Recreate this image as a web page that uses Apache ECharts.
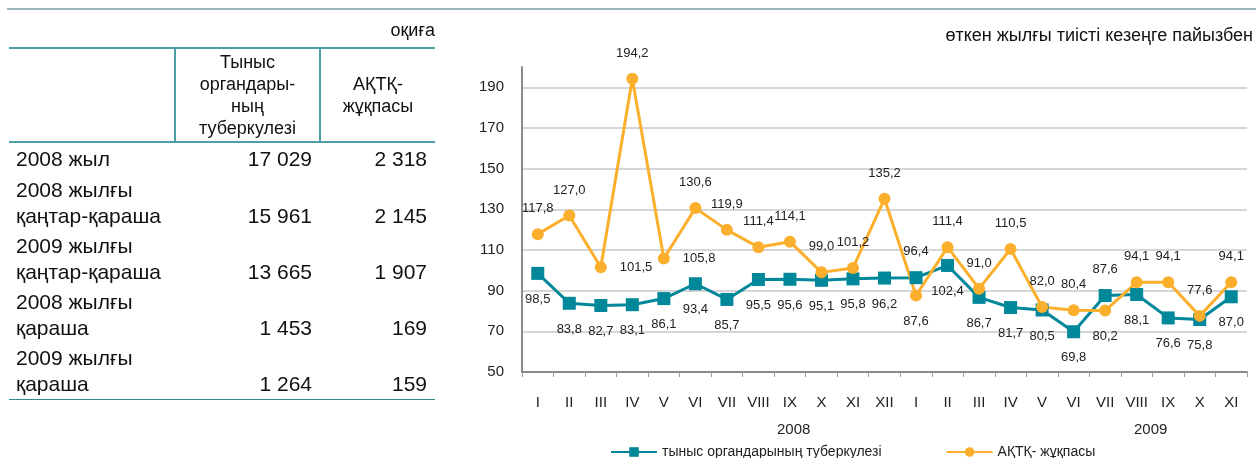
<!DOCTYPE html>
<html>
<head>
<meta charset="utf-8">
<script src="https://cdn.jsdelivr.net/npm/echarts@6/dist/echarts.min.js"></script>
<style>
  html, body { margin: 0; padding: 0; background: #fff; }
  body { width: 1256px; height: 458px; position: relative; overflow: hidden;
         font-family: "Liberation Sans", Arial, sans-serif; color: #111; }
  #chart { position: absolute; left: 0; top: 0; width: 1256px; height: 458px; }
  .topline { position: absolute; left: 7px; right: 0; top: 8px; height: 0; border-top: 2px solid #9bb7bb; }
  .unit { position: absolute; left: 300px; width: 135px; top: 19px; line-height: 22px; text-align: right; font-size: 18px; }
  table { position: absolute; left: 9px; top: 47px; width: 426px; border-collapse: collapse; table-layout: fixed; font-size: 21px; }
  th { font-weight: normal; font-size: 18px; line-height: 22px; text-align: center; height: 92px; padding: 0;
       border-top: 2px solid #4d9ea6; border-bottom: 2px solid #4d9ea6; }
  th + th { border-left: 2px solid #4d9ea6; }
  td { padding: 2px 0 2px 0; line-height: 26px; vertical-align: bottom; }
  td.n { text-align: right; padding-right: 8px; }
  tr.first td { height: 28px; vertical-align: middle; }
  tr.last td { border-bottom: 1px solid #2f8a94; }
  td.name { padding-left: 7px; }
</style>
</head>
<body>
<div id="chart"></div>
<div class="topline"></div>
<div class="unit">оқиға</div>
<table id="tbl">
  <colgroup><col style="width:166px"><col style="width:145px"><col style="width:115px"></colgroup>
  <thead><tr><th></th><th>Тыныс<br>органдары-<br>ның<br>туберкулезі</th><th>АҚТҚ-<br>жұқпасы</th></tr></thead>
  <tbody id="tbody"></tbody>
</table>
<script>
// таблица
var rowNames = ['2008 жыл', '2008 жылғы<br>қаңтар-қараша', '2009 жылғы<br>қаңтар-қараша', '2008 жылғы<br>қараша', '2009 жылғы<br>қараша'];
var tbCases = ['17 029', '15 961', '13 665', '1 453', '1 264'];
var hivCases = ['2 318', '2 145', '1 907', '169', '159'];

// график
var months = ['I', 'II', 'III', 'IV', 'V', 'VI', 'VII', 'VIII', 'IX', 'X', 'XI', 'XII',
              'I', 'II', 'III', 'IV', 'V', 'VI', 'VII', 'VIII', 'IX', 'X', 'XI'];
var tbValues = [98.5, 83.8, 82.7, 83.1, 86.1, 93.4, 85.7, 95.5, 95.6, 95.1, 95.8, 96.2,
                96.4, 102.4, 86.7, 81.7, 80.5, 69.8, 87.6, 88.1, 76.6, 75.8, 87.0];
var hivValues = [117.8, 127.0, 101.5, 194.2, 105.8, 130.6, 119.9, 111.4, 114.1, 99.0, 101.2, 135.2,
                 87.6, 111.4, 91.0, 110.5, 82.0, 80.4, 80.2, 94.1, 94.1, 77.6, 94.1];
var yTicks = [50, 70, 90, 110, 130, 150, 170, 190];
var years = ['2008', '2009'];
var seriesNames = ['тыныс органдарының туберкулезі', 'АҚТҚ- жұқпасы'];

// где стоят подписи точек
var tbLabelPos = ['bottom', 'bottom', 'bottom', 'bottom', 'bottom', 'bottom', 'bottom', 'bottom', 'bottom', 'bottom', 'bottom', 'bottom',
                  'top', 'bottom', 'bottom', 'bottom', 'bottom', 'bottom', 'top', 'bottom', 'bottom', 'bottom', 'bottom'];
var hivLabelPos = ['top', 'top', 'right', 'top', 'right', 'top', 'top', 'top', 'top', 'top', 'top', 'top',
                   'bottom', 'top', 'top', 'top', 'top', 'top', 'bottom', 'top', 'top', 'top', 'top'];

(function () {
  var body = document.getElementById('tbody');
  var html = '';
  for (var i = 0; i < rowNames.length; i++) {
    var cls = i === 0 ? 'first' : (i === rowNames.length - 1 ? 'last' : '');
    html += '<tr class="' + cls + '"><td class="name">' + rowNames[i] + '</td><td class="n">' + tbCases[i] +
            '</td><td class="n">' + hivCases[i] + '</td></tr>';
  }
  body.innerHTML = html;
})();

(function () {
  var myChart = echarts.init(document.getElementById('chart'));
  var teal = '#00879a';
  var orange = '#fbaf2c';
  var font = '"Liberation Sans", Arial, sans-serif';

  function withPos(values, pos) {
    return values.map(function (v, i) {
      return { value: v, label: { position: pos[i] } };
    });
  }
  function fmt(p) {
    return p.value.toFixed(1).replace('.', ',');
  }

  var option = {
    textStyle: { fontFamily: font },
    animation: false,
    grid: { left: 522, right: 9, top: 67, bottom: 86 },
    legend: {
      left: 610, top: 445, padding: 0,
      itemWidth: 46, itemHeight: 12, itemGap: 64,
      textStyle: { fontSize: 14, color: '#222', fontFamily: font },
      data: seriesNames
    },
    graphic: [
      { type: 'text', right: 3, top: 27, style: { text: 'өткен жылғы тиісті кезеңге пайызбен', font: '18px ' + font, fill: '#111' } },
      { type: 'text', left: 777, top: 422, style: { text: years[0], font: '15px ' + font, fill: '#222', align: 'center' } },
      { type: 'text', left: 1134, top: 422, style: { text: years[1], font: '15px ' + font, fill: '#222', align: 'center' } }
    ],
    xAxis: {
      type: 'category',
      data: months,
      boundaryGap: true,
      axisLine: { lineStyle: { color: '#8a8a8a', width: 2 } },
      axisTick: { show: true, interval: 0, length: 5, lineStyle: { color: '#9a9a9a' } },
      axisLabel: { interval: 0, margin: 23, fontSize: 15, color: '#222' }
    },
    yAxis: {
      type: 'value',
      min: 50,
      max: 200,
      axisLine: { show: true, lineStyle: { color: '#8a8a8a', width: 2 } },
      axisTick: { show: false, customValues: yTicks },
      axisLabel: { customValues: yTicks, fontSize: 15, color: '#222', margin: 18 },
      splitLine: { lineStyle: { color: '#c6c8ca', width: 1.5 } }
    },
    series: [{
      name: seriesNames[0],
      type: 'line',
      data: withPos(tbValues, tbLabelPos),
      symbol: 'rect',
      symbolSize: 13,
      lineStyle: { color: teal, width: 3 },
      itemStyle: { color: teal },
      label: { show: true, distance: 13, fontSize: 13, color: '#222', formatter: fmt }
    }, {
      name: seriesNames[1],
      type: 'line',
      data: withPos(hivValues, hivLabelPos),
      symbol: 'circle',
      symbolSize: 12,
      lineStyle: { color: orange, width: 3 },
      itemStyle: { color: orange },
      label: { show: true, distance: 13, fontSize: 13, color: '#222', formatter: fmt }
    }]
  };
  myChart.setOption(option);
  window.addEventListener('resize', function () {
    myChart.resize();
  });
})();
</script>
</body>
</html>
